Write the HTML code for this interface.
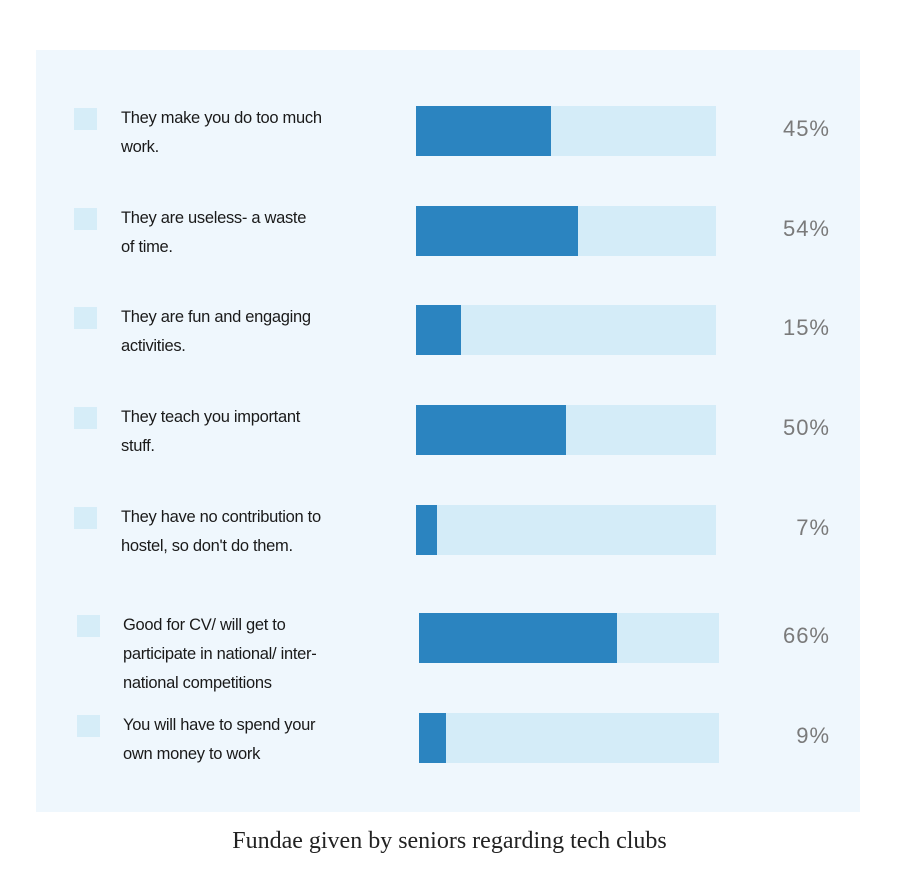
<!DOCTYPE html>
<html><head><meta charset="utf-8"><style>
body{margin:0;width:899px;height:875px;background:#fff;position:relative;overflow:hidden;font-family:"Liberation Sans",sans-serif}
#panel{position:absolute;left:36px;top:50px;width:824px;height:762px;background:#eff7fd}
.sq{position:absolute;width:23px;height:22px;background:#d6edf8}
.lbl{position:absolute;left:121px;font-size:16.5px;line-height:29px;color:#1a1a1a;letter-spacing:-0.3px;width:280px}
.track{position:absolute;height:50px;background:#d4ecf8}
.fill{position:absolute;left:0;top:0;height:50px;background:#2b84c0}
.pct{position:absolute;right:69px;font-family:"Liberation Sans",sans-serif;letter-spacing:1px;font-size:22px;color:#7a7a7a}
#cap{position:absolute;left:0;width:899px;top:828px;text-align:center;font-family:"Liberation Serif",serif;font-size:24px;color:#222}
</style></head><body>
<div id="panel"></div>
<div id="rows"></div>
<div id="cap">Fundae given by seniors regarding tech clubs</div>
<script>
const labels=[["They make you do too much","work."],["They are useless- a waste","of time."],["They are fun and engaging","activities."],["They teach you important","stuff."],["They have no contribution to","hostel, so don't do them."],["Good for CV/ will get to","participate in national/ inter-","national competitions"],["You will have to spend your","own money to work"]];
const values=[45,54,15,50,7,66,9];
const rowTops=[106,206,305,405,505,613,713];
const trackX=[416,416,416,416,416,419,419];
const W=300;
const root=document.getElementById('rows');
values.forEach((v,i)=>{
  const t=rowTops[i];
  const sq=document.createElement('div');sq.className='sq';
  
  
  sq.style.left=(i>=5?77:74)+'px';sq.style.top=(t+2)+'px';root.appendChild(sq);
  const l=document.createElement('div');l.className='lbl';
  
  
  l.style.top=(t-2)+'px';if(i>=5)l.style.left='123px';
  l.innerHTML=labels[i].join('<br>');root.appendChild(l);
  const tr=document.createElement('div');tr.className='track';
  
  
  tr.style.left=trackX[i]+'px';tr.style.top=t+'px';tr.style.width=W+'px';
  const f=document.createElement('div');f.className='fill';
  
  
  f.style.width=(v/100*W)+'px';tr.appendChild(f);root.appendChild(tr);
  const p=document.createElement('div');p.className='pct';
  
  
  p.style.top=(t+10)+'px';p.textContent=v+'%';root.appendChild(p);
});
</script>
</body></html>
